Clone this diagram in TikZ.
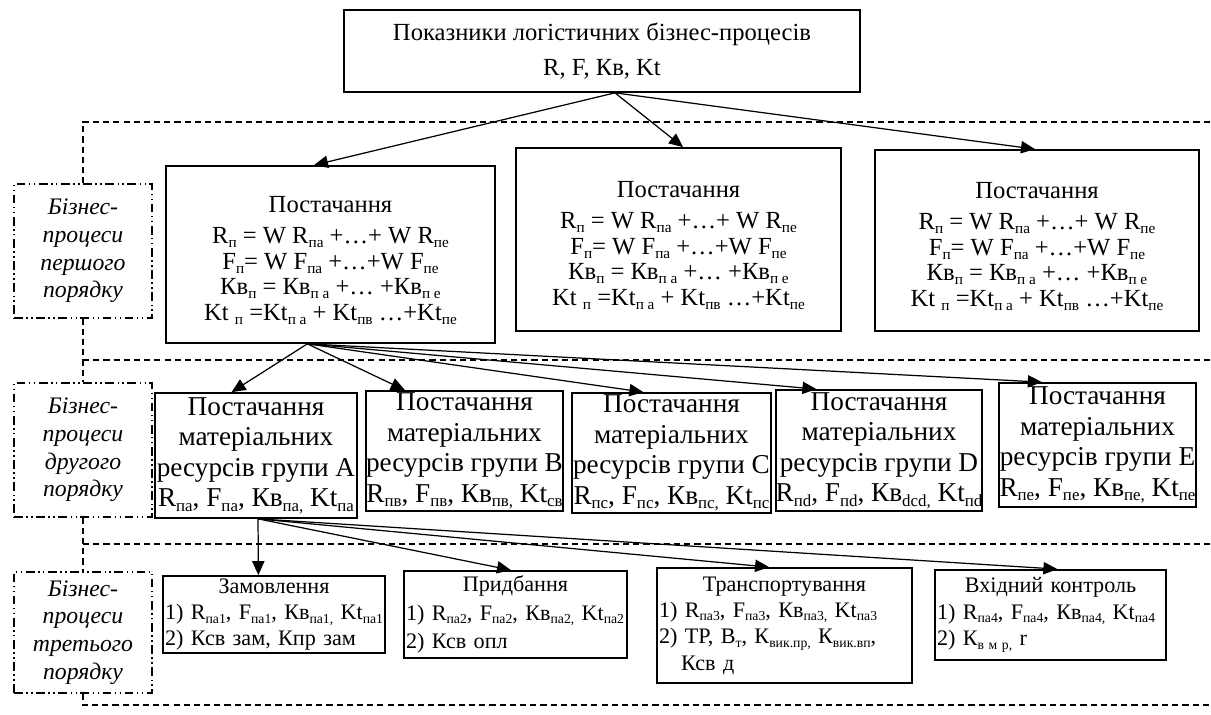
\documentclass[tikz,border=0pt]{standalone}
\usepackage{fontspec}
\setmainfont{Liberation Serif}
\usetikzlibrary{arrows.meta,calc}
\newcommand{\sbt}[1]{\raisebox{-0.35ex}{\scalebox{0.62}{#1}}}
\newcommand{\lft}[1]{\makebox[\linewidth][l]{#1}}
\newcommand{\hgt}[1]{\rule{0pt}{#1}}

\begin{document}
\begin{tikzpicture}[x=0.02cm, y=-0.02cm,
  box/.style={draw, line width=1pt, align=center, inner sep=0pt},
  tag/.style={draw, line width=0.7pt, dash pattern=on 5pt off 2pt on 0.8pt off 2pt on 0.8pt off 2pt,
    align=center, inner sep=0pt, minimum width=2.76cm, font=\itshape\fontsize{13.5}{15.8}\selectfont},
  sep/.style={line width=0.8pt, dash pattern=on 3.5pt off 2.3pt},
  arr/.style={-{Triangle[length=8pt,width=7pt]}, line width=0.7pt},
  lone/.style={box, font=\fontsize{14}{14.5}\selectfont},
  ltwo/.style={box, font=\fontsize{15.5}{17.4}\selectfont},
  lthree/.style={box, font=\fontsize{12.6}{15}\selectfont, inner xsep=1pt}]
  \useasboundingbox (0,0) rectangle (1211,715);
  % Top box and first order processes:
  \node[box, font=\fontsize{14}{17}\selectfont, minimum width=10.32cm, minimum height=1.64cm] (top) at (602,51)
    {Показники логістичних бізнес-процесів\\[3pt] R, F, Кв, Kt};
  \node[lone, minimum width=6.58cm, minimum height=3.54cm] (p1) at (330.5,254.5)
    {\hgt{16pt}Постачання\\[3pt] R\sbt{п} = W R\sbt{па} +…+ W R\sbt{пе}\\ F\sbt{п}= W F\sbt{па} +…+W F\sbt{пе}\\
     Кв\sbt{п} = Кв\sbt{п а} +… +Кв\sbt{п е}\\ Kt \sbt{п} =Kt\sbt{п а} + Kt\sbt{пв} …+Kt\sbt{пе}};
  \node[lone, minimum width=6.5cm, minimum height=3.66cm] (p2) at (678.5,239.5)
    {\hgt{16pt}Постачання\\[3pt] R\sbt{п} = W R\sbt{па} +…+ W R\sbt{пе}\\ F\sbt{п}= W F\sbt{па} +…+W F\sbt{пе}\\
     Кв\sbt{п} = Кв\sbt{п а} +… +Кв\sbt{п е}\\ Kt \sbt{п} =Kt\sbt{п а} + Kt\sbt{пв} …+Kt\sbt{пе}};
  \node[lone, minimum width=6.48cm, minimum height=3.62cm] (p3) at (1037,240.5)
    {\hgt{16pt}Постачання\\[3pt] R\sbt{п} = W R\sbt{па} +…+ W R\sbt{пе}\\ F\sbt{п}= W F\sbt{па} +…+W F\sbt{пе}\\
     Кв\sbt{п} = Кв\sbt{п а} +… +Кв\sbt{п е}\\ Kt \sbt{п} =Kt\sbt{п а} + Kt\sbt{пв} …+Kt\sbt{пе}};
  % Second order:
  \node[ltwo, minimum width=4.04cm, minimum height=2.5cm] (ga) at (256,455.5)
    {Постачання\\ матеріальних\\ ресурсів групи A\\ R\sbt{па}, F\sbt{па}, Кв\sbt{па,} Kt\sbt{па}};
  \node[ltwo, minimum width=3.94cm, minimum height=2.4cm] (gb) at (464.5,451)
    {Постачання\\ матеріальних\\ ресурсів групи B\\ R\sbt{пв}, F\sbt{пв}, Кв\sbt{пв,} Kt\sbt{св}};
  \node[ltwo, minimum width=3.98cm, minimum height=2.4cm] (gc) at (671.5,453)
    {Постачання\\ матеріальних\\ ресурсів групи C\\ R\sbt{пс}, F\sbt{пс}, Кв\sbt{пс,} Kt\sbt{пс}};
  \node[ltwo, minimum width=3.96cm, minimum height=2.42cm] (gd) at (879,450.5)
    {Постачання\\ матеріальних\\ ресурсів групи D\\ R\sbt{пd}, F\sbt{пd}, Кв\sbt{dcd,} Kt\sbt{пd}};
  \node[ltwo, minimum width=3.94cm, minimum height=2.48cm] (ge) at (1097.5,445)
    {Постачання\\ матеріальних\\ ресурсів групи E\\ R\sbt{пе}, F\sbt{пе}, Кв\sbt{пе,} Kt\sbt{пе}};
  % Third order:
  \node[lthree, text width=4.36cm, minimum height=1.54cm] (zam) at (274,614.5)
    {Замовлення\\ \lft{1) R\sbt{па1}, F\sbt{па1}, Кв\sbt{па1,} Kt\sbt{па1}}\\ \lft{2) Ксв зам, Кпр зам}};
  \node[lthree, text width=4.38cm, minimum height=1.74cm] (prd) at (515.5,614.5)
    {Придбання\\[1pt] \lft{1) R\sbt{па2}, F\sbt{па2}, Кв\sbt{па2,} Kt\sbt{па2}}\\[1pt] \lft{2) Ксв опл}};
  \node[lthree, text width=5.02cm, minimum height=2.3cm] (trn) at (784.5,625.5)
    {Транспортування\\ \lft{1) R\sbt{па3}, F\sbt{па3}, Кв\sbt{па3,} Kt\sbt{па3}}\\
     \lft{2) ТР, В\sbt{т}, К\sbt{вик.пр,} К\sbt{вик.вп},}\\ \lft{\hspace{1em}Ксв д}};
  \node[lthree, text width=4.54cm, minimum height=1.8cm] (vkh) at (1050.5,615)
    {Вхідний контроль\\ \lft{1) R\sbt{па4}, F\sbt{па4}, Кв\sbt{па4,} Kt\sbt{па4}}\\ \lft{2) К\sbt{в м р,} r}};
  % Level tags:
  \node[tag, minimum height=2.68cm] (L1) at (83,251) {Бізнес-\\процеси\\першого\\порядку};
  \node[tag, minimum height=2.68cm] (L2) at (83,450) {Бізнес-\\процеси\\другого\\порядку};
  \node[tag, minimum height=2.42cm] (L3) at (83,632.5) {Бізнес-\\процеси\\третього\\порядку};
  % Separators:
  \coordinate (e1) at (1211,122);
  \coordinate (e2) at (1211,360);
  \coordinate (e3) at (1211,544);
  \coordinate (e4) at (1211,705);
  \draw[sep] (L1.north) |- (e1);
  \draw[sep] (L1.south) -- (L2.north);
  \draw[sep] (L1.south |- e2) -- (e2);
  \draw[sep] (L2.south) -- (L3.north);
  \draw[sep] (L2.south |- e3) -- (e3);
  \draw[sep] (L3.south) |- (e4);
  % Arrows:
  \coordinate (t0) at ($(top.south west)!0.525!(top.south east)$);
  \draw[arr] (t0) -- ($(p1.north west)!0.45!(p1.north east)$);
  \draw[arr] (t0) -- ($(p2.north west)!0.514!(p2.north east)$);
  \draw[arr] (t0) -- ($(p3.north west)!0.494!(p3.north east)$);
  \coordinate (s0) at ($(p1.south west)!0.43!(p1.south east)$);
  \draw[arr] (s0) -- ($(ga.north west)!0.38!(ga.north east)$);
  \draw[arr] (s0) -- ($(gb.north west)!0.2!(gb.north east)$);
  \draw[arr] (s0) -- ($(gc.north west)!0.36!(gc.north east)$);
  \draw[arr] (s0) -- ($(gd.north west)!0.2!(gd.north east)$);
  \draw[arr] (s0) -- ($(ge.north west)!0.22!(ge.north east)$);
  \coordinate (a0) at ($(ga.south west)!0.51!(ga.south east)$);
  \draw[arr] (a0) -- ($(zam.north west)!0.43!(zam.north east)$);
  \draw[arr] (a0) -- ($(prd.north west)!0.48!(prd.north east)$);
  \draw[arr] (a0) -- ($(trn.north west)!0.44!(trn.north east)$);
  \draw[arr] (a0) -- ($(vkh.north west)!0.53!(vkh.north east)$);
\end{tikzpicture}
\end{document}
